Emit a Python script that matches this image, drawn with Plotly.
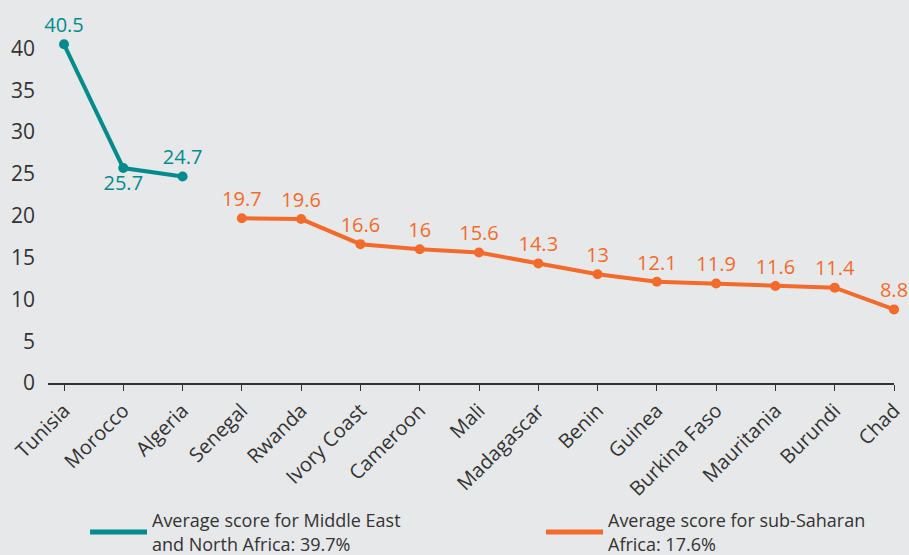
import plotly.graph_objects as go

countries = ["Tunisia", "Morocco", "Algeria", "Senegal", "Rwanda", "Ivory Coast", "Cameroon",
             "Mali", "Madagascar", "Benin", "Guinea", "Burkina Faso", "Mauritania", "Burundi", "Chad"]
mena_countries = ["Tunisia", "Morocco", "Algeria"]
mena_values = [40.5, 25.7, 24.7]
ssa_countries = ["Senegal", "Rwanda", "Ivory Coast", "Cameroon", "Mali", "Madagascar", "Benin",
                 "Guinea", "Burkina Faso", "Mauritania", "Burundi", "Chad"]
ssa_values = [19.7, 19.6, 16.6, 16, 15.6, 14.3, 13, 12.1, 11.9, 11.6, 11.4, 8.8]
mena_name = "Average score for Middle East<br>and North Africa: 39.7%"
ssa_name = "Average score for sub-Saharan<br>Africa: 17.6%"
y_ticks = [0, 5, 10, 15, 20, 25, 30, 35, 40]

teal = "#008c8c"
orange = "#f36b2a"
bg = "#e7e8ea"
font = "Open Sans"
dark = "#333333"

fig = go.Figure()
fig.add_trace(go.Scatter(
    x=mena_countries, y=mena_values, showlegend=False,
    mode="lines+markers+text",
    line=dict(color=teal, width=4), marker=dict(color=teal, size=10),
    text=[str(v) for v in mena_values],
    textposition=["top center", "bottom center", "top center"],
    textfont=dict(color=teal, size=20, family=font),
    cliponaxis=False,
))
fig.add_trace(go.Scatter(
    x=ssa_countries, y=ssa_values, showlegend=False,
    mode="lines+markers+text",
    line=dict(color=orange, width=4), marker=dict(color=orange, size=10),
    text=[f"{v:g}" for v in ssa_values],
    textposition="top center",
    textfont=dict(color=orange, size=20, family=font),
    cliponaxis=False,
))
# legend entries (line only)
fig.add_trace(go.Scatter(x=[None], y=[None], mode="lines", name=mena_name,
                         line=dict(color=teal, width=5), legend="legend"))
fig.add_trace(go.Scatter(x=[None], y=[None], mode="lines", name=ssa_name,
                         line=dict(color=orange, width=5), legend="legend2"))

legend_common = dict(xanchor="left", yanchor="middle", valign="middle",
                     font=dict(size=18, family=font, color=dark),
                     bgcolor="rgba(0,0,0,0)", itemwidth=57, tracegroupgap=0)

fig.update_layout(
    width=909, height=555,
    paper_bgcolor=bg, plot_bgcolor=bg,
    margin=dict(l=48, r=15, t=15, b=172, autoexpand=False),
    font=dict(family=font, color=dark, size=18),
    showlegend=True,
    legend=dict(x=(85 - 48) / 846, y=-0.405, **legend_common),
    legend2=dict(x=(541 - 48) / 846, y=-0.405, **legend_common),
    xaxis=dict(categoryorder="array", categoryarray=countries, automargin=False,
               range=[-0.27, 14], showgrid=False, showline=True,
               linecolor=dark, linewidth=2, ticks="outside", ticklen=6,
               tickcolor=dark, tickangle=-45, tickfont=dict(size=20),
               zeroline=False),
    yaxis=dict(range=[0, 44], tickvals=y_ticks, showgrid=False, showline=False, automargin=False,
               zeroline=False, tickfont=dict(size=21), ticks="", ticklabelstandoff=12),
)
fig.write_html("out.html", config={"displayModeBar": False},
               post_script="document.body.style.margin='0';")
